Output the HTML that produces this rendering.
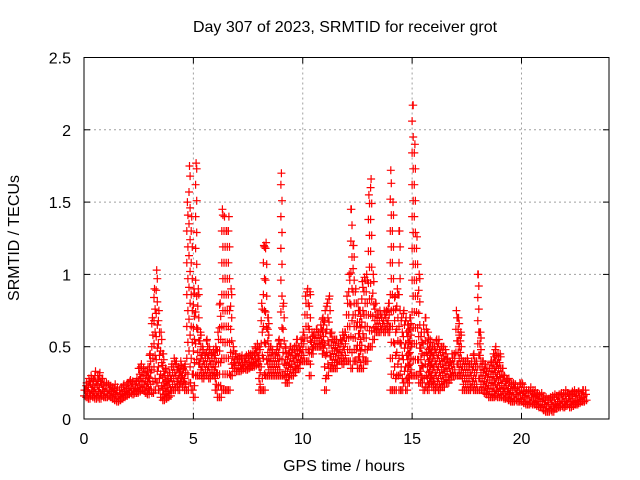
<!DOCTYPE html>
<html><head><meta charset="utf-8"><style>
html,body{margin:0;padding:0;background:#fff;}
svg{display:block;font-family:"Liberation Sans",sans-serif;}
</style></head><body>
<svg id="chart" width="640" height="480" viewBox="0 0 640 480" xmlns="http://www.w3.org/2000/svg">
<rect width="640" height="480" fill="#fff"/>
<text x="345" y="32" font-size="16" text-anchor="middle" fill="#000">Day 307 of 2023, SRMTID for receiver grot</text>
<text transform="translate(19,238) rotate(-90)" font-size="16" text-anchor="middle" fill="#000">SRMTID / TECUs</text>
<text x="344" y="471" font-size="16" text-anchor="middle" fill="#000">GPS time / hours</text>
<g id="grid"></g>
<g id="points"></g>
<g id="axes"></g>
</svg>
<script>
const xTicks = [0, 5, 10, 15, 20];
const xTickLabels = ["0", "5", "10", "15", "20"];
const yTicks = [0, 0.5, 1, 1.5, 2, 2.5];
const yTickLabels = ["0", "0.5", "1", "1.5", "2", "2.5"];
const tStart = 0;
const tStep = 0.1;
const loVals = [
.16,.15,.14,.16,.15,.14,.15,.14,.16,.15,
.15,.16,.15,.14,.13,.12,.13,.14,.15,.16,
.17,.18,.17,.18,.18,.19,.2,.2,.18,.17,
.2,.18,.2,.25,.2,.15,.13,.14,.15,.16,
.2,.2,.22,.2,.25,.22,.2,.2,.25,.2,
.15,.3,.3,.3,.28,.3,.3,.28,.3,.3,
.2,.15,.15,.2,.2,.2,.2,.3,.35,.33,
.33,.33,.34,.35,.34,.35,.36,.36,.37,.38,
.2,.2,.2,.3,.3,.3,.3,.3,.3,.3,
.3,.3,.25,.25,.3,.3,.32,.35,.35,.4,
.4,.4,.4,.3,.45,.5,.5,.5,.5,.45,
.2,.3,.35,.35,.35,.35,.4,.4,.38,.4,
.4,.4,.35,.4,.4,.35,.35,.35,.4,.4,
.5,.5,.55,.6,.6,.6,.62,.6,.62,.6,
.2,.2,.2,.3,.2,.2,.25,.2,.25,.3,
.3,.3,.3,.25,.25,.2,.22,.2,.25,.22,
.2,.22,.2,.22,.22,.25,.25,.27,.3,.3,
.3,.3,.3,.2,.2,.2,.2,.22,.2,.2,
.2,.2,.2,.18,.17,.15,.15,.15,.16,.15,
.15,.15,.14,.15,.13,.12,.12,.13,.12,.12,
.12,.11,.1,.1,.11,.1,.1,.09,.08,.08,
.06,.05,.05,.06,.05,.07,.08,.08,.09,.08,
.09,.1,.08,.09,.1,.1,.11,.12,.12,.13];
const hiVals = [
.2,.25,.28,.3,.27,.33,.3,.32,.28,.25,
.25,.24,.23,.22,.24,.22,.2,.22,.24,.23,
.25,.27,.26,.24,.28,.35,.38,.35,.33,.36,
.45,.7,.9,1.03,.75,.6,.45,.35,.3,.32,
.38,.42,.4,.36,.4,.35,.38,1.5,1.75,1.4,
.9,1.77,.9,.6,.5,.45,.55,.5,.45,.48,
.5,.6,.8,1.45,1.4,1.3,1.4,.9,.5,.45,
.42,.43,.44,.42,.44,.45,.45,.46,.5,.52,
.5,.8,1.2,1.22,.7,.5,.48,.45,.5,.55,
1.7,.8,.5,.45,.5,.48,.5,.55,.5,.55,
.6,.85,.9,.88,.6,.6,.62,.6,.65,.7,
.75,.8,.85,.6,.55,.55,.52,.55,.6,.6,
.85,1.0,1.45,1.2,.9,.8,.75,.95,.98,1.0,
1.55,1.66,1.0,.8,.72,.75,.72,.75,.75,.8,
1.72,1.5,.85,.9,1.3,.7,.75,.7,.65,.7,
2.17,1.9,1.26,1.0,.6,.65,.7,.6,.55,.5,
.5,.55,.55,.5,.5,.48,.42,.4,.45,.45,
.75,.7,.6,.4,.4,.42,.38,.4,.45,.4,
1.0,.6,.4,.38,.35,.35,.4,.45,.5,.45,
.45,.35,.3,.28,.28,.25,.25,.24,.22,.25,
.25,.22,.2,.2,.22,.2,.2,.18,.17,.18,
.16,.15,.14,.15,.16,.17,.16,.17,.18,.18,
.2,.18,.17,.19,.2,.18,.19,.18,.2,.2];

const NS = "http://www.w3.org/2000/svg";
const L = 84, R = 609, T = 57.5, B = 419;
const xMin = 0, xMax = 24, yMin = 0, yMax = 2.5;
function xs(v){ return L + (v - xMin) / (xMax - xMin) * (R - L); }
function ys(v){ return B - (v - yMin) / (yMax - yMin) * (B - T); }
function mk(tag, attrs, parent){ const e = document.createElementNS(NS, tag); for (const k in attrs) e.setAttribute(k, attrs[k]); parent.appendChild(e); return e; }

const grid = document.getElementById('grid');
const axes = document.getElementById('axes');
const pts = document.getElementById('points');

xTicks.forEach((v, i) => {
  const x = xs(v);
  if (v > xMin) {
    const g = mk('line', {x1:x, y1:T, x2:x, y2:B, stroke:'#a0a0a0', 'stroke-dasharray':'2,3', 'stroke-width':1}, grid);
    
    
  }
  const t1 = mk('line', {x1:x, y1:B, x2:x, y2:B-6, stroke:'#000'}, axes);
  
  
  const t2 = mk('line', {x1:x, y1:T, x2:x, y2:T+6, stroke:'#000'}, axes);
  
  
  const lb = mk('text', {x:x, y:444, 'font-size':16, 'text-anchor':'middle', fill:'#000'}, axes);
  lb.textContent = xTickLabels[i];
  
  
});
yTicks.forEach((v, i) => {
  const y = ys(v);
  if (v > yMin && v < yMax) {
    const g = mk('line', {x1:L, y1:y, x2:R, y2:y, stroke:'#a0a0a0', 'stroke-dasharray':'2,3', 'stroke-width':1}, grid);
    
    
  }
  const t1 = mk('line', {x1:L, y1:y, x2:L+6, y2:y, stroke:'#000'}, axes);
  
  
  const t2 = mk('line', {x1:R, y1:y, x2:R-6, y2:y, stroke:'#000'}, axes);
  
  
  const lb = mk('text', {x:L-13, y:y+6, 'font-size':16, 'text-anchor':'end', fill:'#000'}, axes);
  lb.textContent = yTickLabels[i];
  
  
});
const frame = mk('rect', {x:L, y:T, width:R-L, height:B-T, fill:'none', stroke:'#000', 'stroke-width':1}, axes);



let d = '';
function plus(x, y){ d += 'M' + (x-4).toFixed(1) + ' ' + y.toFixed(1) + 'h8M' + x.toFixed(1) + ' ' + (y-4).toFixed(1) + 'v8'; }
loVals.forEach((lo, i) => {
  const hi = hiVals[i];
  const t = tStart + i * tStep;
  const span = hi - lo;
  const step = span > 0.8 ? 0.11 : (span > 0.4 ? 0.08 : 0.04);
  let k = 0;
  for (let v = lo; v <= hi + 1e-9; v += step, k++) {
    plus(xs(t + (k % 2) * tStep * 0.5), ys(v));
  }
  plus(xs(t + tStep * 0.25), ys(hi));
  plus(xs(t + tStep * 0.75), ys(lo));
});
const p = mk('path', {d:d, stroke:'#ff0000', 'stroke-width':1.2, fill:'none'}, pts);


</script>
</body></html>
